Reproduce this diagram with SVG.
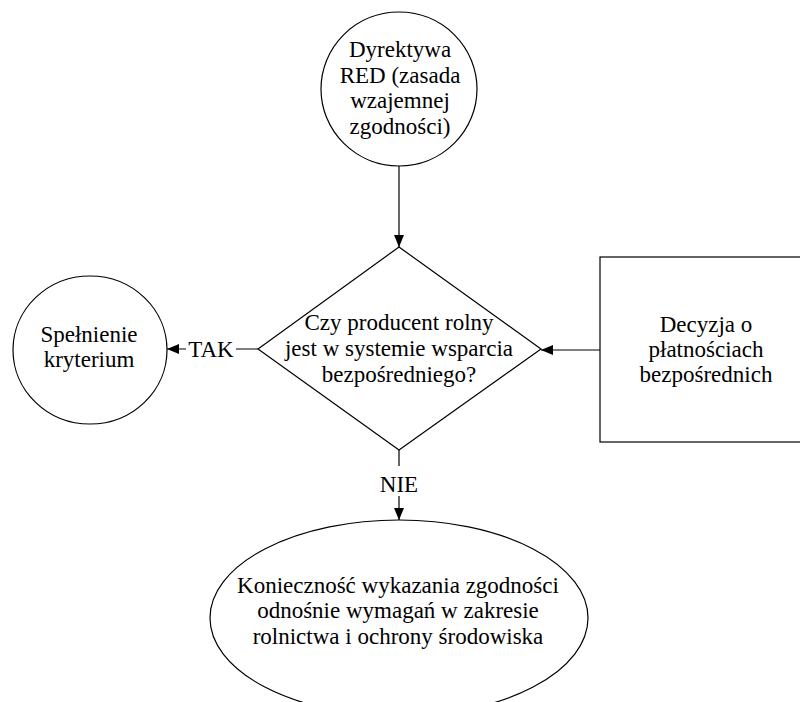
<svg xmlns="http://www.w3.org/2000/svg" width="800" height="702" viewBox="0 0 800 702">
<defs>
<marker id="arr" viewBox="0 0 12 10" refX="12" refY="5" markerWidth="12" markerHeight="10" markerUnits="userSpaceOnUse" orient="auto">
<path d="M0,0 L12,5 L0,10 Z" fill="#000"/>
</marker>
<style>
.shape{fill:#fff;stroke:#000;stroke-width:1.2}
.t{font-family:"Liberation Serif","Times New Roman",serif;font-size:23px;fill:#000;text-anchor:middle}
.c{fill:none;stroke:#000;stroke-width:1.2}
</style>
</defs>
<rect width="800" height="702" fill="#fff"/>
<g id="connectors">
<line class="c" x1="399" y1="166" x2="399" y2="247" marker-end="url(#arr)"/>
<line class="c" x1="258" y1="349" x2="167" y2="349" marker-end="url(#arr)"/>
<line class="c" x1="600" y1="350" x2="541" y2="350" marker-end="url(#arr)"/>
<line class="c" x1="399" y1="450" x2="399" y2="520" marker-end="url(#arr)"/>
<rect x="186" y="336" width="50" height="24" fill="#fff"/>
<text class="t" x="211" y="357">TAK</text>
<rect x="378" y="466" width="42" height="30" fill="#fff"/>
<text class="t" x="399" y="492">NIE</text>
</g>
<g id="n-red">
<ellipse class="shape" cx="399" cy="89" rx="78" ry="77"/>
<text class="t" x="400" y="57">Dyrektywa</text>
<text class="t" x="400" y="83">RED (zasada</text>
<text class="t" x="400" y="108">wzajemnej</text>
<text class="t" x="400" y="134">zgodności)</text>
</g>
<g id="n-decision">
<polygon class="shape" points="399,247 541,349 399,450 258,349"/>
<text class="t" x="399" y="330">Czy producent rolny</text>
<text class="t" x="399" y="356">jest w systemie wsparcia</text>
<text class="t" x="399" y="382">bezpośredniego?</text>
</g>
<g id="n-yes">
<ellipse class="shape" cx="90" cy="350" rx="77" ry="74"/>
<text class="t" x="89" y="342">Spełnienie</text>
<text class="t" x="89" y="367">kryterium</text>
</g>
<g id="n-source">
<rect class="shape" x="600" y="257" width="212" height="185"/>
<text class="t" x="706" y="332">Decyzja o</text>
<text class="t" x="706" y="357">płatnościach</text>
<text class="t" x="706" y="382">bezpośrednich</text>
</g>
<g id="n-no">
<ellipse class="shape" cx="399" cy="618" rx="189" ry="98"/>
<text class="t" x="398" y="593">Konieczność wykazania zgodności</text>
<text class="t" x="398" y="618">odnośnie wymagań w zakresie</text>
<text class="t" x="398" y="644">rolnictwa i ochrony środowiska</text>
</g>
</svg>
